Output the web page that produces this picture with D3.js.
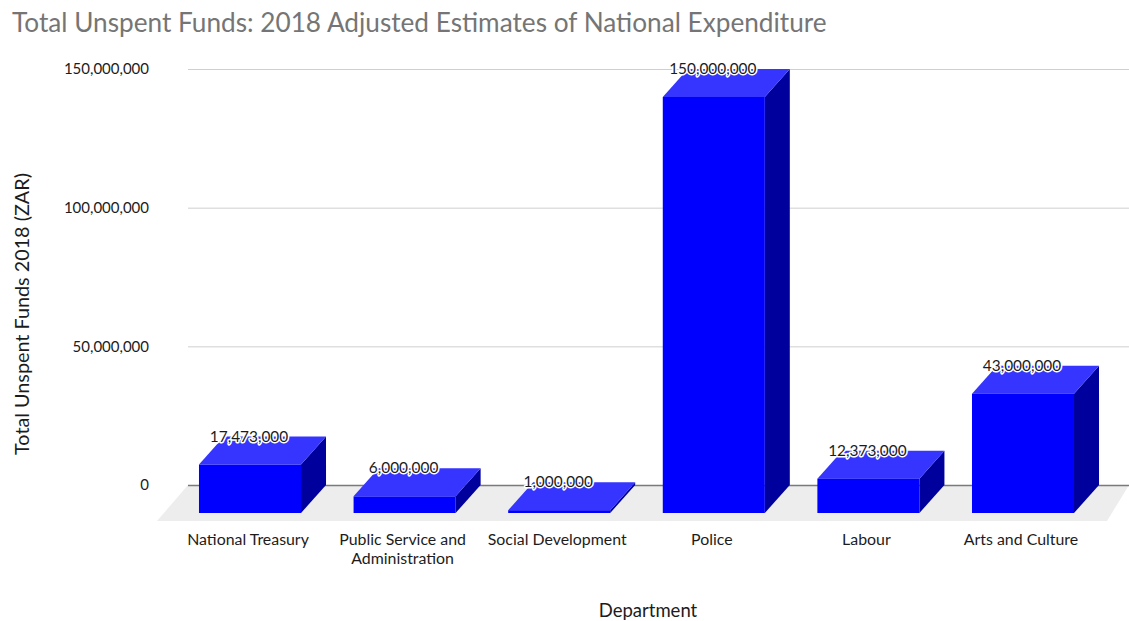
<!DOCTYPE html>
<html>
<head>
<meta charset="utf-8">
<script src="https://cdn.jsdelivr.net/npm/d3@7/dist/d3.min.js"></script>
<style>
  html, body { margin: 0; padding: 0; background: #fff; }
  svg { display: block; }
  text { font-family: Lato, "Open Sans", sans-serif; }
</style>
</head>
<body>
<svg id="chart" width="1129" height="621"></svg>
<script>
// Unspent funds per department, in rand
const departments = ["National Treasury", "Public Service and\nAdministration", "Social Development", "Police", "Labour", "Arts and Culture"];
const unspentFunds = [17473000, 6000000, 1000000, 150000000, 12373000, 43000000];
const axisTicks = [0, 50000000, 100000000, 150000000];

const titleText = "Total Unspent Funds: 2018 Adjusted Estimates of National Expenditure";
const yTitleText = "Total Unspent Funds 2018 (ZAR)";
const xTitleText = "Department";

const depthX = 25, depthY = 28;
const svg = d3.select("#chart");
const fmt = d3.format(",");

const y = d3.scaleLinear().domain([0, 150000000]).range([485, 69]);
const x = d3.scaleBand().domain(departments).range([172.7, 1100.3]).paddingInner(0.34).paddingOuter(0.17);

// Floor of the 3D plot
const floorPath = d3.path();
floorPath.moveTo(188, y(0));
floorPath.lineTo(1129, y(0));
floorPath.lineTo(1107, y(0) + 36);
floorPath.lineTo(157, y(0) + 36);
floorPath.closePath();
svg.append("path").attr("d", floorPath.toString()).attr("fill", "#ededed");

// Value axis with gridlines drawn along the back wall
const yAxis = svg.append("g")
  .attr("transform", "translate(188,0)")
  .call(d3.axisLeft(y).tickValues(axisTicks).tickFormat(fmt).tickSize(-941).tickPadding(39));
yAxis.select(".domain").remove();
yAxis.selectAll(".tick line")
  .attr("stroke", d => d === 0 ? "#7a7a7a" : "#cfcfcf")
  .attr("stroke-width", d => d === 0 ? 1.5 : 1);
yAxis.selectAll(".tick text")
  .attr("font-size", 15).attr("fill", "#1c1c1c").style("font-family", 'Lato, sans-serif');

// Extruded bars: side, top, then front face
const bars = svg.append("g").selectAll("g").data(departments).join("g");

const shape = (pts) => d3.line()(pts) + "Z";

bars.append("path")
  .attr("fill", "#00009c")
  .attr("d", (d, i) => {
    const r = x(d) + x.bandwidth(), top = y(unspentFunds[i]) + depthY, base = y(0) + depthY;
    return shape([[r, top], [r + depthX, top - depthY], [r + depthX, base - depthY], [r, base]]);
  });

bars.append("path")
  .attr("fill", "#3535ff")
  .attr("d", (d, i) => {
    const l = x(d), r = l + x.bandwidth(), top = y(unspentFunds[i]) + depthY;
    return shape([[l, top], [l + depthX, top - depthY], [r + depthX, top - depthY], [r, top]]);
  });

bars.append("rect")
  .attr("fill", "#0000ff")
  .attr("x", d => x(d))
  .attr("width", x.bandwidth())
  .attr("y", (d, i) => y(unspentFunds[i]) + depthY)
  .attr("height", (d, i) => y(0) - y(unspentFunds[i]));

// Value labels with a white halo
bars.append("text")
  .attr("x", d => x(d) + x.bandwidth() / 2 - 1)
  .attr("y", (d, i) => y(unspentFunds[i]) + 5)
  .attr("text-anchor", "middle")
  .attr("font-size", 15.4)
  .attr("fill", "#1c1c1c")
  .attr("stroke", "#fff")
  .attr("stroke-width", 3)
  .attr("stroke-linejoin", "round")
  .attr("paint-order", "stroke")
  .text((d, i) => fmt(unspentFunds[i]));

// Department labels, split on their line breaks
const xAxis = svg.append("g")
  .attr("transform", "translate(0,513)")
  .call(d3.axisBottom(x).tickSize(0).tickFormat(""));
xAxis.select(".domain").remove();
xAxis.selectAll(".tick text").each(function(d) {
  const t = d3.select(this).attr("y", 0).attr("dy", null)
    .attr("font-size", 15.9).attr("fill", "#1c1c1c")
    .style("font-family", 'Lato, sans-serif');
  d.split("\n").forEach((line, i) => {
    t.append("tspan").attr("x", -2).attr("y", 32 + i * 19).text(line);
  });
});

// Titles
svg.append("text").attr("x", 12).attr("y", 32)
  .attr("font-size", 26.2).attr("fill", "#757575").text(titleText);
svg.append("text").attr("x", 648).attr("y", 617)
  .attr("text-anchor", "middle").attr("font-size", 18.5).attr("fill", "#1c1c1c").text(xTitleText);
svg.append("text").attr("transform", "translate(29,314) rotate(-90)")
  .attr("text-anchor", "middle").attr("font-size", 19.8).attr("fill", "#1c1c1c").text(yTitleText);
</script>
</body>
</html>
